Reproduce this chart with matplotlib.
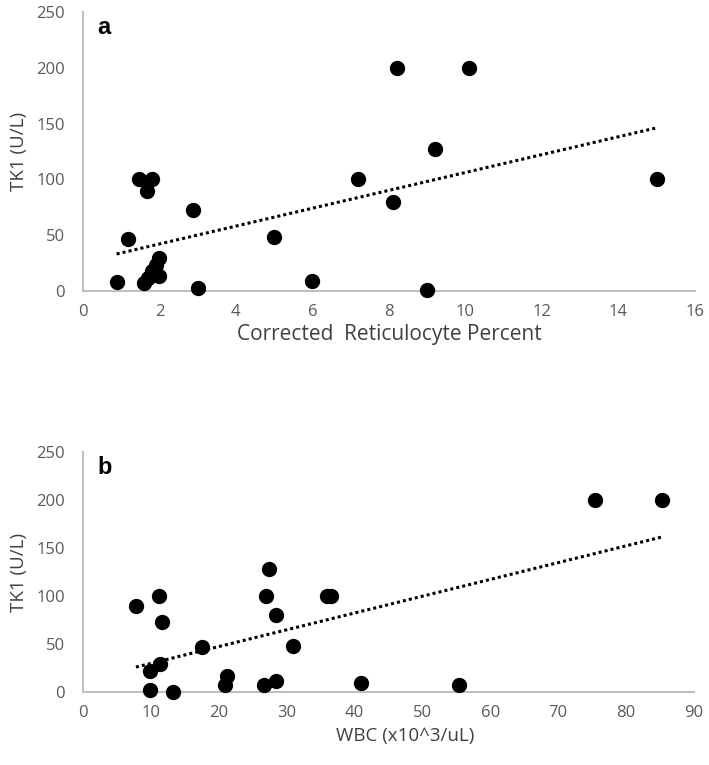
import numpy as np
import matplotlib.pyplot as plt

# panel a: corrected reticulocyte percent vs TK1
retic = [0.88, 1.18, 1.46, 1.80, 1.68, 2.88, 2.0, 1.9, 1.8, 2.0, 1.6, 1.7,
         3.0, 5.0, 6.0, 7.2, 8.1, 8.2, 10.1, 9.2, 9.0, 15.0]
tk1_a = [8, 47, 100, 100, 90, 73, 30, 23, 18, 13, 7, 12,
         3, 48, 9, 100, 80, 200, 200, 127, 1, 100]

# panel b: WBC vs TK1
wbc = [7.8, 11.2, 11.7, 9.8, 9.8, 11.4, 13.3, 17.6, 21.2, 20.9, 26.7, 28.4,
       26.9, 27.4, 28.4, 30.9, 35.9, 36.5, 40.9, 55.4, 75.4, 85.3]
tk1_b = [90, 100, 73, 22, 3, 30, 1, 47, 17, 8, 8, 12,
         100, 128, 81, 48, 100, 100, 10, 8, 200, 200]

y_ticks = [0, 50, 100, 150, 200, 250]

plt.rcParams['font.family'] = ['Open Sans', 'DejaVu Sans']
grey = '#595959'

fig = plt.figure(figsize=(7.09, 7.65), dpi=100)
ax_a = fig.add_axes([0.117, 0.6196, 0.863, 0.3647])
ax_b = fig.add_axes([0.117, 0.0948, 0.862, 0.3144])


def panel(ax, x, y, xmax, xstep, xlabel, letter, xlab_size, xlab_xy):
    x = np.array(x, dtype=float)
    y = np.array(y, dtype=float)
    ax.scatter(x, y, s=100, color='black', zorder=3, clip_on=False)
    k, b = np.polyfit(x, y, 1)
    xs = np.array([x.min(), x.max()])
    ax.plot(xs, k * xs + b, color='black', lw=2.2, linestyle=(0, (1, 1)))
    ax.set_xlim(0, xmax)
    ax.set_ylim(0, 250)
    ax.set_xticks(np.arange(0, xmax + 1, xstep))
    ax.set_yticks(y_ticks)
    for s in ['top', 'right']:
        ax.spines[s].set_visible(False)
    for s in ['left', 'bottom']:
        ax.spines[s].set_color('#bfbfbf')
        ax.spines[s].set_linewidth(1.5)
    ax.tick_params(length=0, labelsize=12, labelcolor=grey)
    ax.tick_params(axis='y', pad=13)
    ax.tick_params(axis='x', pad=9)
    ax.set_xlabel(xlabel, fontsize=xlab_size, color='#404040')
    ax.xaxis.set_label_coords(*xlab_xy)
    ax.set_ylabel('TK1 (U/L)', fontsize=13.5, color='#404040', labelpad=6)
    ax.text(0.024, 0.985, letter, transform=ax.transAxes, fontsize=17,
            fontweight='bold', family='Liberation Sans', va='top', ha='left')


panel(ax_a, retic, tk1_a, 16, 2, 'Corrected  Reticulocyte Percent', 'a', 15, (0.5, -0.12))
panel(ax_b, wbc, tk1_b, 90, 10, 'WBC (x10^3/uL)', 'b', 13.5, (0.527, -0.145))

fig.savefig('out.png', dpi=100)
